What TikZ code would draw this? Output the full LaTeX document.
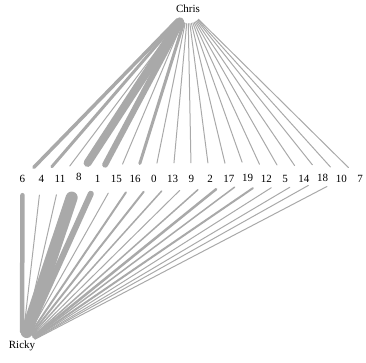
\documentclass[tikz,border=0pt]{standalone}
\usepackage{fontspec}
\setmainfont{Liberation Serif}
\definecolor{edgegray}{HTML}{A9A9A9}
\begin{document}
\begin{tikzpicture}[x=1pt,y=-1pt,
  num/.style={circle,inner sep=0pt,minimum size=32pt,font=\fontsize{11}{13}\selectfont},
  person/.style={circle,inner sep=0pt,minimum size=29pt,font=\fontsize{11}{13}\selectfont},
  edgeline/.style={draw=edgegray,line cap=round}]
\useasboundingbox (0,0) rectangle (366,363);
% people
\node[person] (chris) at (188,9) {Chris};
\node[person] (ricky) at (22,346) {Ricky};
% middle row
\foreach \nm/\i/\yy in {6/0/179,4/1/179,11/2/179,8/3/176.5,1/4/179,15/5/179,16/6/179,0/7/179,13/8/179,9/9/179,2/10/179,17/11/179,19/12/177.5,12/13/179,5/14/179,14/15/179,18/16/177.5,10/17/179,7/18/179}
  \node[num] (n\nm) at ({22.5+18.75*\i},\yy) {\nm};
% edges Chris -- numbers
\foreach \nm/\w in {6/3.5,4/3,11/1,8/8,1/6,15/1,16/3,0/1,13/1,9/1,2/1,17/1,19/1,12/1,5/1,14/1,18/1,10/1,7/1}
  \draw[edgeline,line width=\w pt] (chris) -- (n\nm);
% edges numbers -- Ricky
\foreach \nm/\w in {6/4.5,4/1,11/1,1/6,15/1,16/2,0/2,13/1.5,9/1,2/1.5,17/2.5,19/1.5,12/2,5/1,14/1,18/1,10/1}
  \draw[edgeline,line width=\w pt] (n\nm) -- (ricky);
\draw[edgeline,line width=12pt,shorten <=6pt] (n8) -- (ricky);
\end{tikzpicture}
\end{document}
